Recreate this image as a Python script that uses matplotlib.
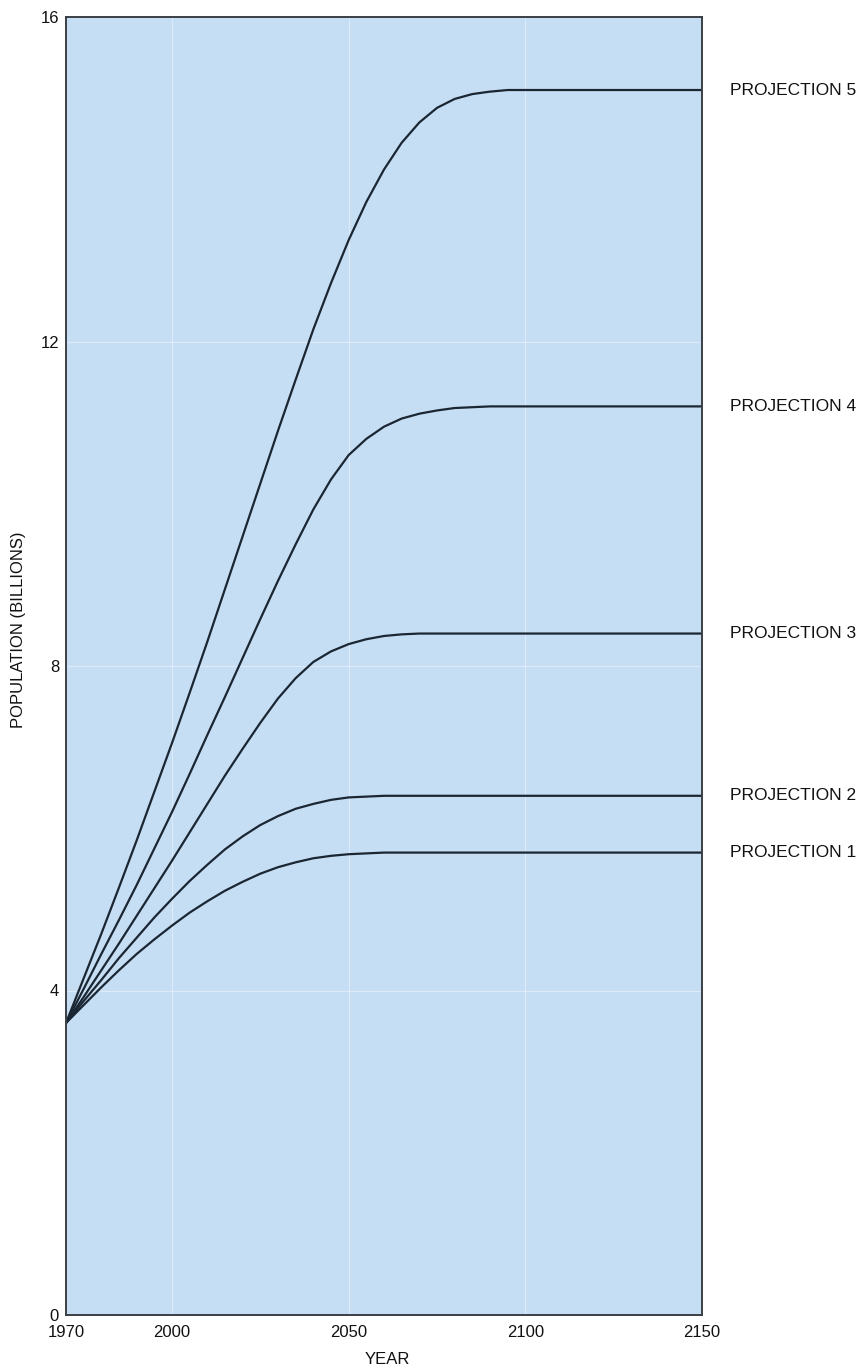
import numpy as np
import matplotlib
matplotlib.use('Agg')
import matplotlib.pyplot as plt

plt.rcParams['font.family'] = ['Liberation Sans', 'DejaVu Sans']

# years, every 5 years from 1970 to 2100, then the flat tail
years = list(range(1970, 2105, 5)) + [2125, 2150]

# population in billions
proj1 = [3.6, 3.82, 4.04, 4.25, 4.45, 4.63, 4.8, 4.96, 5.1, 5.23, 5.34, 5.44, 5.52, 5.58,
         5.63, 5.66, 5.68, 5.69, 5.7, 5.7, 5.7, 5.7, 5.7, 5.7, 5.7, 5.7, 5.7, 5.7, 5.7]
proj2 = [3.6, 3.87, 4.13, 4.4, 4.65, 4.9, 5.13, 5.35, 5.55, 5.74, 5.9, 6.04, 6.15, 6.24,
         6.3, 6.35, 6.38, 6.39, 6.4, 6.4, 6.4, 6.4, 6.4, 6.4, 6.4, 6.4, 6.4, 6.4, 6.4]
proj3 = [3.6, 3.92, 4.25, 4.58, 4.92, 5.26, 5.6, 5.95, 6.3, 6.65, 6.98, 7.3, 7.6, 7.85,
         8.05, 8.18, 8.27, 8.33, 8.37, 8.39, 8.4, 8.4, 8.4, 8.4, 8.4, 8.4, 8.4, 8.4, 8.4]
proj4 = [3.6, 4.02, 4.45, 4.87, 5.3, 5.75, 6.2, 6.67, 7.15, 7.62, 8.1, 8.58, 9.05, 9.5,
         9.93, 10.3, 10.6, 10.8, 10.95, 11.05, 11.11, 11.15, 11.18, 11.19, 11.2, 11.2, 11.2, 11.2, 11.2]
proj5 = [3.6, 4.15, 4.7, 5.27, 5.85, 6.45, 7.05, 7.67, 8.3, 8.95, 9.6, 10.25, 10.9, 11.53,
         12.15, 12.72, 13.25, 13.72, 14.12, 14.45, 14.7, 14.88, 14.99, 15.05, 15.08, 15.1, 15.1, 15.1, 15.1]

series = [proj1, proj2, proj3, proj4, proj5]
labels = ['PROJECTION 1', 'PROJECTION 2', 'PROJECTION 3', 'PROJECTION 4', 'PROJECTION 5']

fig = plt.figure(figsize=(8.65, 13.68), dpi=100)
ax = fig.add_axes([66/865, 1-1315/1368, (702-66)/865, (1315-17)/1368])
ax.set_facecolor('#c6def4')

ax.set_xlim(1970, 2150)
ax.set_ylim(0, 16)
ax.set_xticks([1970, 2000, 2050, 2100, 2150])
ax.set_yticks([0, 4, 8, 12, 16])
ax.grid(True, color='white', alpha=0.4, linewidth=0.8)
ax.set_axisbelow(True)
ax.tick_params(length=0, labelsize=12, colors='#111111')
ax.tick_params(axis='x', pad=7)
ax.tick_params(axis='y', pad=5)
for sp in ax.spines.values():
    sp.set_color('#3a3f45')
    sp.set_linewidth(1.4)

for y, lab in zip(series, labels):
    ax.plot(years, y, color='#1b2633', linewidth=1.6, solid_joinstyle='round')
    ax.annotate(lab, xy=(2150, y[-1]), xytext=(20, 0), textcoords='offset points',
                va='center', ha='left', fontsize=12.5, color='#111111', annotation_clip=False)

fig.text(387/865, 1-1359/1368, 'YEAR', ha='center', va='center', fontsize=12, color='#111111')
fig.text(19/865, 1-630/1368, 'POPULATION (BILLIONS)', ha='center', va='center',
         rotation=90, fontsize=12, color='#111111')

fig.savefig('out.png', dpi=100, facecolor='white')
